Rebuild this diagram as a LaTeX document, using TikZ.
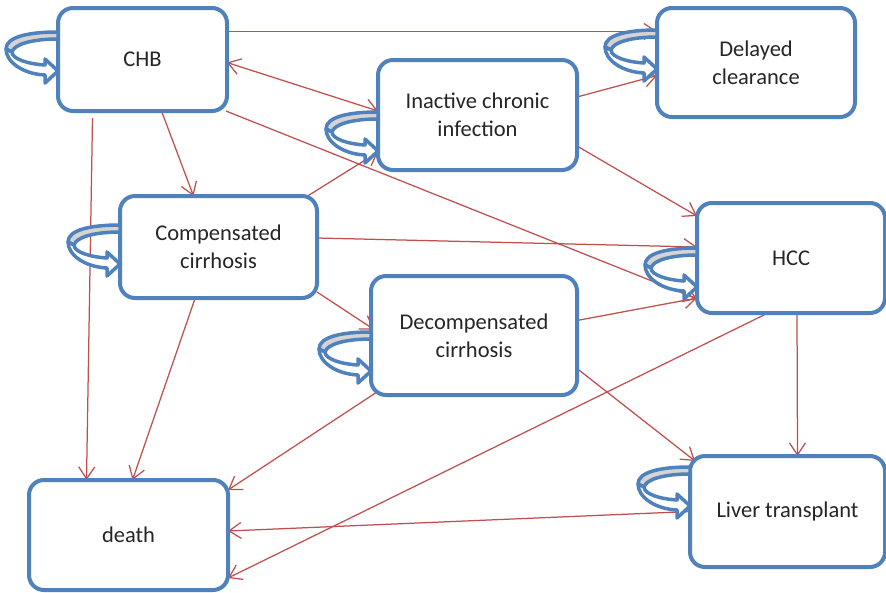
\documentclass[tikz,border=0pt]{standalone}
\usepackage{fontspec}
\setmainfont{Carlito}
\usetikzlibrary{arrows.meta,calc,backgrounds}
\definecolor{boxblue}{HTML}{4F81BD}
\definecolor{linkred}{HTML}{C0504D}
\definecolor{bandgrey}{HTML}{D4D4D4}
\definecolor{labelgrey}{HTML}{262626}
\tikzset{
  statebox/.style={draw=boxblue, line width=4pt, rounded corners=15pt, fill=white,
    inner sep=0pt, outer sep=0pt, align=center, text=labelgrey,
    font=\fontsize{22.5}{28}\selectfont},
  barb/.tip={Straight Barb[length=12pt,width=16pt,line width=1.25pt]},
  link/.style={draw=linkred, line width=1.25pt, -barb},
  linkboth/.style={draw=linkred, line width=1.25pt, barb-barb},
  loopback/.style={draw=boxblue, line width=3.5pt, fill=bandgrey, line join=round},
  loopfront/.style={draw=boxblue, line width=3.5pt, fill=white, line join=round},
  stayloop/.pic={
    \filldraw[loopback] (0,0) .. controls (-30,0) and (-52,5) .. (-52,17)
      -- (-46,20) .. controls (-44,12) and (-25,7) .. (0,7) -- cycle;
    \filldraw[loopfront] (-52,17) .. controls (-52,30) and (-35,42) .. (-13,43)
      -- (-13,51) -- (0,39) -- (-13,27) -- (-13,33)
      .. controls (-30,32) and (-46,27) .. (-46,20) -- cycle;
  }
}
\begin{document}
\begin{tikzpicture}[x=1pt,y=-1pt]
\useasboundingbox (0,0) rectangle (886,592);

% states
\node[statebox, minimum width=169pt, minimum height=103pt] (chb) at (142.5,59.5) {\raisebox{-1.5pt}{CHB}};
\node[statebox, minimum width=198pt, minimum height=109pt] (dc)  at (756,62.5) {Delayed\\clearance};
\node[statebox, minimum width=199pt, minimum height=110pt] (ici) at (477.5,115) {Inactive chronic\\infection};
\node[statebox, minimum width=197pt, minimum height=102pt] (cc)  at (218.5,247) {Compensated\\cirrhosis};
\node[statebox, minimum width=188pt, minimum height=110pt] (hcc) at (791,258) {\raisebox{-1.5pt}{HCC}};
\node[statebox, minimum width=206pt, minimum height=119pt] (dcc) at (474,335.5) {Decompensated\\cirrhosis};
\node[statebox, minimum width=195pt, minimum height=111pt] (lt)  at (787.5,511.5) {\raisebox{-1.5pt}{Liver transplant}};
\node[statebox, minimum width=199pt, minimum height=110pt] (dth) at (128.5,535) {\raisebox{-1.5pt}{death}};

% transitions, kept beneath the states
\begin{scope}[on background layer]
\fill[white] (0,0) rectangle (886,592);
\draw[link] ($(chb.east)+(0,-28)$) -- ($(dc.west)+(0,-31)$);
\draw[linkboth] ($(chb.east)+(0,3)$) -- ($(ici.west)+(0,-4)$);
\draw[link] ($(ici.east)+(0,-18)$) -- ($(dc.west)+(0,13)$);
\draw[link] ($(ici.east)+(0,31)$) -- ($(hcc.west)+(0,-42)$);
\draw[link] ($(chb.south east)+(-1,0)$) -- ($(hcc.west)+(0,41)$);
\draw[link] ($(chb.south)+(19,0)$) -- ($(cc.north)+(-25,0)$);
\draw[link] ($(chb.south)+(-50,7)$) -- ($(dth.north)+(-42,0)$);
\draw[link] ($(cc.north east)+(-11,1)$) -- ($(ici.west)+(0,37)$);
\draw[link] ($(cc.east)+(0,-9)$) -- ($(hcc.west)+(0,-11)$);
\draw[link] ($(cc.east)+(0,45)$) -- ($(dcc.west)+(3,-6)$);
\draw[link] ($(cc.south)+(-24,2)$) -- ($(dth.north)+(4,0)$);
\draw[link] ($(dcc.east)+(0,-15)$) -- ($(hcc.west)+(0,40)$);
\draw[link] ($(dcc.east)+(0,33)$) -- ($(lt.north west)+(5,5)$);
\draw[link] ($(dcc.south west)+(6,-3)$) -- ($(dth.east)+(0,-45)$);
\draw[link] ($(hcc.south)+(-23,0)$) -- ($(dth.east)+(0,43)$);
\draw[link] ($(hcc.south)+(6,0)$) -- ($(lt.north)+(10,0)$);
\draw[link] (lt.west) -- ($(dth.east)+(0,-4)$);
\end{scope}

% self-transitions
\pic at ($(chb.west)+(0,-27.5)$) {stayloop};
\pic at ($(dc.west)+(0,-32.5)$) {stayloop};
\pic at ($(ici.west)+(0,-3)$) {stayloop};
\pic at ($(cc.west)+(0,-22)$) {stayloop};
\pic at ($(hcc.west)+(0,-10)$) {stayloop};
\pic at ($(dcc.west)+(0,-3.5)$) {stayloop};
\pic at ($(lt.west)+(0,-44.5)$) {stayloop};
\end{tikzpicture}
\end{document}
